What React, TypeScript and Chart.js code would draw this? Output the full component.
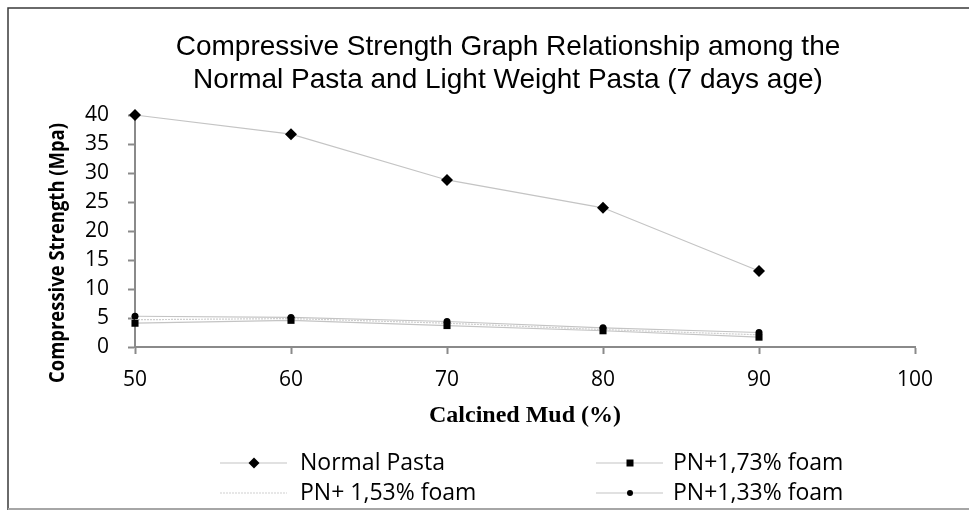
import React, { useEffect, useRef } from 'react';
import { Chart, registerables } from 'chart.js';

Chart.register(...registerables);

// ---- data ----
const calcinedMud = [50, 60, 70, 80, 90];
const normalPasta = [40, 36.7, 28.8, 24.0, 13.1];
const foam173 = [4.1, 4.6, 3.7, 2.8, 1.7];
const foam153 = [4.7, 4.9, 4.1, 3.0, 2.1];
const foam133 = [5.3, 5.1, 4.4, 3.3, 2.5];
const seriesNames = ['Normal Pasta', 'PN+1,73% foam', 'PN+ 1,53% foam', 'PN+1,33% foam'];
const titleLines = [
  'Compressive Strength Graph Relationship among the',
  'Normal Pasta and Light Weight Pasta (7 days age)',
];
const yTitle = 'Compressive Strength (Mpa)';
const xTitle = 'Calcined Mud (%)';
const xMin = 50, xMax = 100, xStep = 10;
const yMin = 0, yMax = 40, yStep = 5;

const W = 969, H = 512;
const AXIS = '#8a8a8a';
const LINE = '#c4c4c4';

function toPoints(vals: number[]) {
  return calcinedMud.map((x, i) => ({ x, y: vals[i] }));
}

const decorPlugin = {
  id: 'decor',
  afterDraw(chart: any) {
    const ctx = chart.ctx as CanvasRenderingContext2D;
    ctx.save();
    // frame
    ctx.strokeStyle = '#3a3a3a';
    ctx.lineWidth = 1.5;
    ctx.beginPath();
    ctx.moveTo(8, 510);
    ctx.lineTo(8, 8);
    ctx.lineTo(969, 8);
    ctx.stroke();
    ctx.strokeStyle = '#a6a6a6';
    ctx.lineWidth = 2;
    ctx.beginPath();
    ctx.moveTo(8, 509);
    ctx.lineTo(969, 509);
    ctx.stroke();

    // title
    ctx.fillStyle = '#000';
    ctx.font = '28px "Liberation Sans", Arial, sans-serif';
    ctx.textAlign = 'center';
    ctx.textBaseline = 'middle';
    ctx.fillText(titleLines[0], 508, 47);
    ctx.fillText(titleLines[1], 508, 80);

    // y title (compressed along its length)
    ctx.save();
    ctx.translate(58, 253);
    ctx.rotate(-Math.PI / 2);
    ctx.font = 'bold 22px "Open Sans", sans-serif';
    const m = ctx.measureText(yTitle).width;
    ctx.scale(260 / m, 1);
    ctx.textAlign = 'center';
    ctx.textBaseline = 'middle';
    ctx.fillText(yTitle, 0, 0);
    ctx.restore();

    // legend
    const cols = [220, 596];
    const rows = [463, 493];
    const textOff = [80, 77];
    chart.data.datasets.forEach((ds: any, i: number) => {
      const cx = cols[i % 2];
      const cy = rows[Math.floor(i / 2)];
      ctx.save();
      ctx.strokeStyle = ds.borderColor;
      ctx.lineWidth = ds.borderWidth;
      ctx.setLineDash(ds.borderDash || []);
      ctx.beginPath();
      ctx.moveTo(cx, cy);
      ctx.lineTo(cx + 67, cy);
      ctx.stroke();
      ctx.restore();
      const mx = cx + 34;
      ctx.fillStyle = '#000';
      if (ds.pointStyle === 'rectRot') {
        const r = 5.5;
        ctx.beginPath();
        ctx.moveTo(mx, cy - r);
        ctx.lineTo(mx + r, cy);
        ctx.lineTo(mx, cy + r);
        ctx.lineTo(mx - r, cy);
        ctx.closePath();
        ctx.fill();
      } else if (ds.pointStyle === 'rect') {
        ctx.fillRect(mx - 3.5, cy - 3.5, 7, 7);
      } else if (ds.pointRadius > 0) {
        ctx.beginPath();
        ctx.arc(mx, cy, 3, 0, Math.PI * 2);
        ctx.fill();
      }
      ctx.font = '23px "Open Sans", sans-serif';
      ctx.textAlign = 'left';
      ctx.textBaseline = 'middle';
      ctx.fillStyle = '#000';
      ctx.fillText(ds.label, cx + textOff[i % 2], cy);
    });
    ctx.restore();
  },
};

export default function App() {
  const ref = useRef<HTMLCanvasElement | null>(null);

  useEffect(() => {
    if (!ref.current) return;
    const tickFont = { family: '"Open Sans", sans-serif', size: 21 };
    const chart = new Chart(ref.current, {
      type: 'line',
      data: {
        datasets: [
          {
            label: seriesNames[0],
            data: toPoints(normalPasta),
            borderColor: LINE,
            borderWidth: 1.2,
            pointStyle: 'rectRot',
            pointRadius: 6,
            pointBackgroundColor: '#000',
            pointBorderColor: '#000',
            pointBorderWidth: 0,
            clip: false,
          },
          {
            label: seriesNames[1],
            data: toPoints(foam173),
            borderColor: LINE,
            borderWidth: 1.2,
            pointStyle: 'rect',
            pointRadius: 5,
            pointBackgroundColor: '#000',
            pointBorderColor: '#000',
            pointBorderWidth: 0,
            clip: false,
          },
          {
            label: seriesNames[2],
            data: toPoints(foam153),
            borderColor: '#cfcfcf',
            borderWidth: 1.2,
            borderDash: [2, 1],
            pointRadius: 0,
            clip: false,
          },
          {
            label: seriesNames[3],
            data: toPoints(foam133),
            borderColor: LINE,
            borderWidth: 1.2,
            pointStyle: 'circle',
            pointRadius: 3.5,
            pointBackgroundColor: '#000',
            pointBorderColor: '#000',
            pointBorderWidth: 0,
            clip: false,
          },
        ],
      },
      options: {
        responsive: false,
        animation: false,
        events: [],
        layout: { padding: { left: 35, right: 54, top: 115, bottom: 82 } },
        plugins: {
          legend: { display: false },
          title: { display: false },
          tooltip: { enabled: false },
        },
        scales: {
          x: {
            type: 'linear',
            min: xMin,
            max: xMax,
            afterFit: (s: any) => {
              s.height = 83;
              s.paddingLeft = 0;
              s.paddingRight = 0;
            },
            ticks: { stepSize: xStep, color: '#000', font: tickFont, padding: 13, maxRotation: 0 },
            grid: { drawOnChartArea: false, drawTicks: true, tickLength: 7, tickColor: AXIS, tickWidth: 2 },
            border: { display: true, color: AXIS, width: 2 },
            title: {
              display: true,
              text: xTitle,
              color: '#000',
              font: { family: '"Liberation Serif", "Times New Roman", serif', size: 24, weight: 'bold' },
              padding: { top: 0, bottom: 0 },
            },
          },
          y: {
            type: 'linear',
            min: yMin,
            max: yMax,
            afterFit: (s: any) => {
              s.width = 100;
              s.paddingTop = 0;
              s.paddingBottom = 0;
            },
            ticks: { stepSize: yStep, color: '#000', font: tickFont, padding: 19 },
            grid: { drawOnChartArea: false, drawTicks: true, tickLength: 7, tickColor: AXIS, tickWidth: 2 },
            border: { display: true, color: AXIS, width: 2 },
          },
        },
      },
      plugins: [decorPlugin],
    } as any);
    return () => chart.destroy();
  }, []);

  return (
    <div style={{ position: 'absolute', left: 0, top: 0, width: W, height: H, background: '#fff' }}>
      <canvas ref={ref} width={W} height={H} style={{ width: W, height: H, display: 'block' }} />
    </div>
  );
}
